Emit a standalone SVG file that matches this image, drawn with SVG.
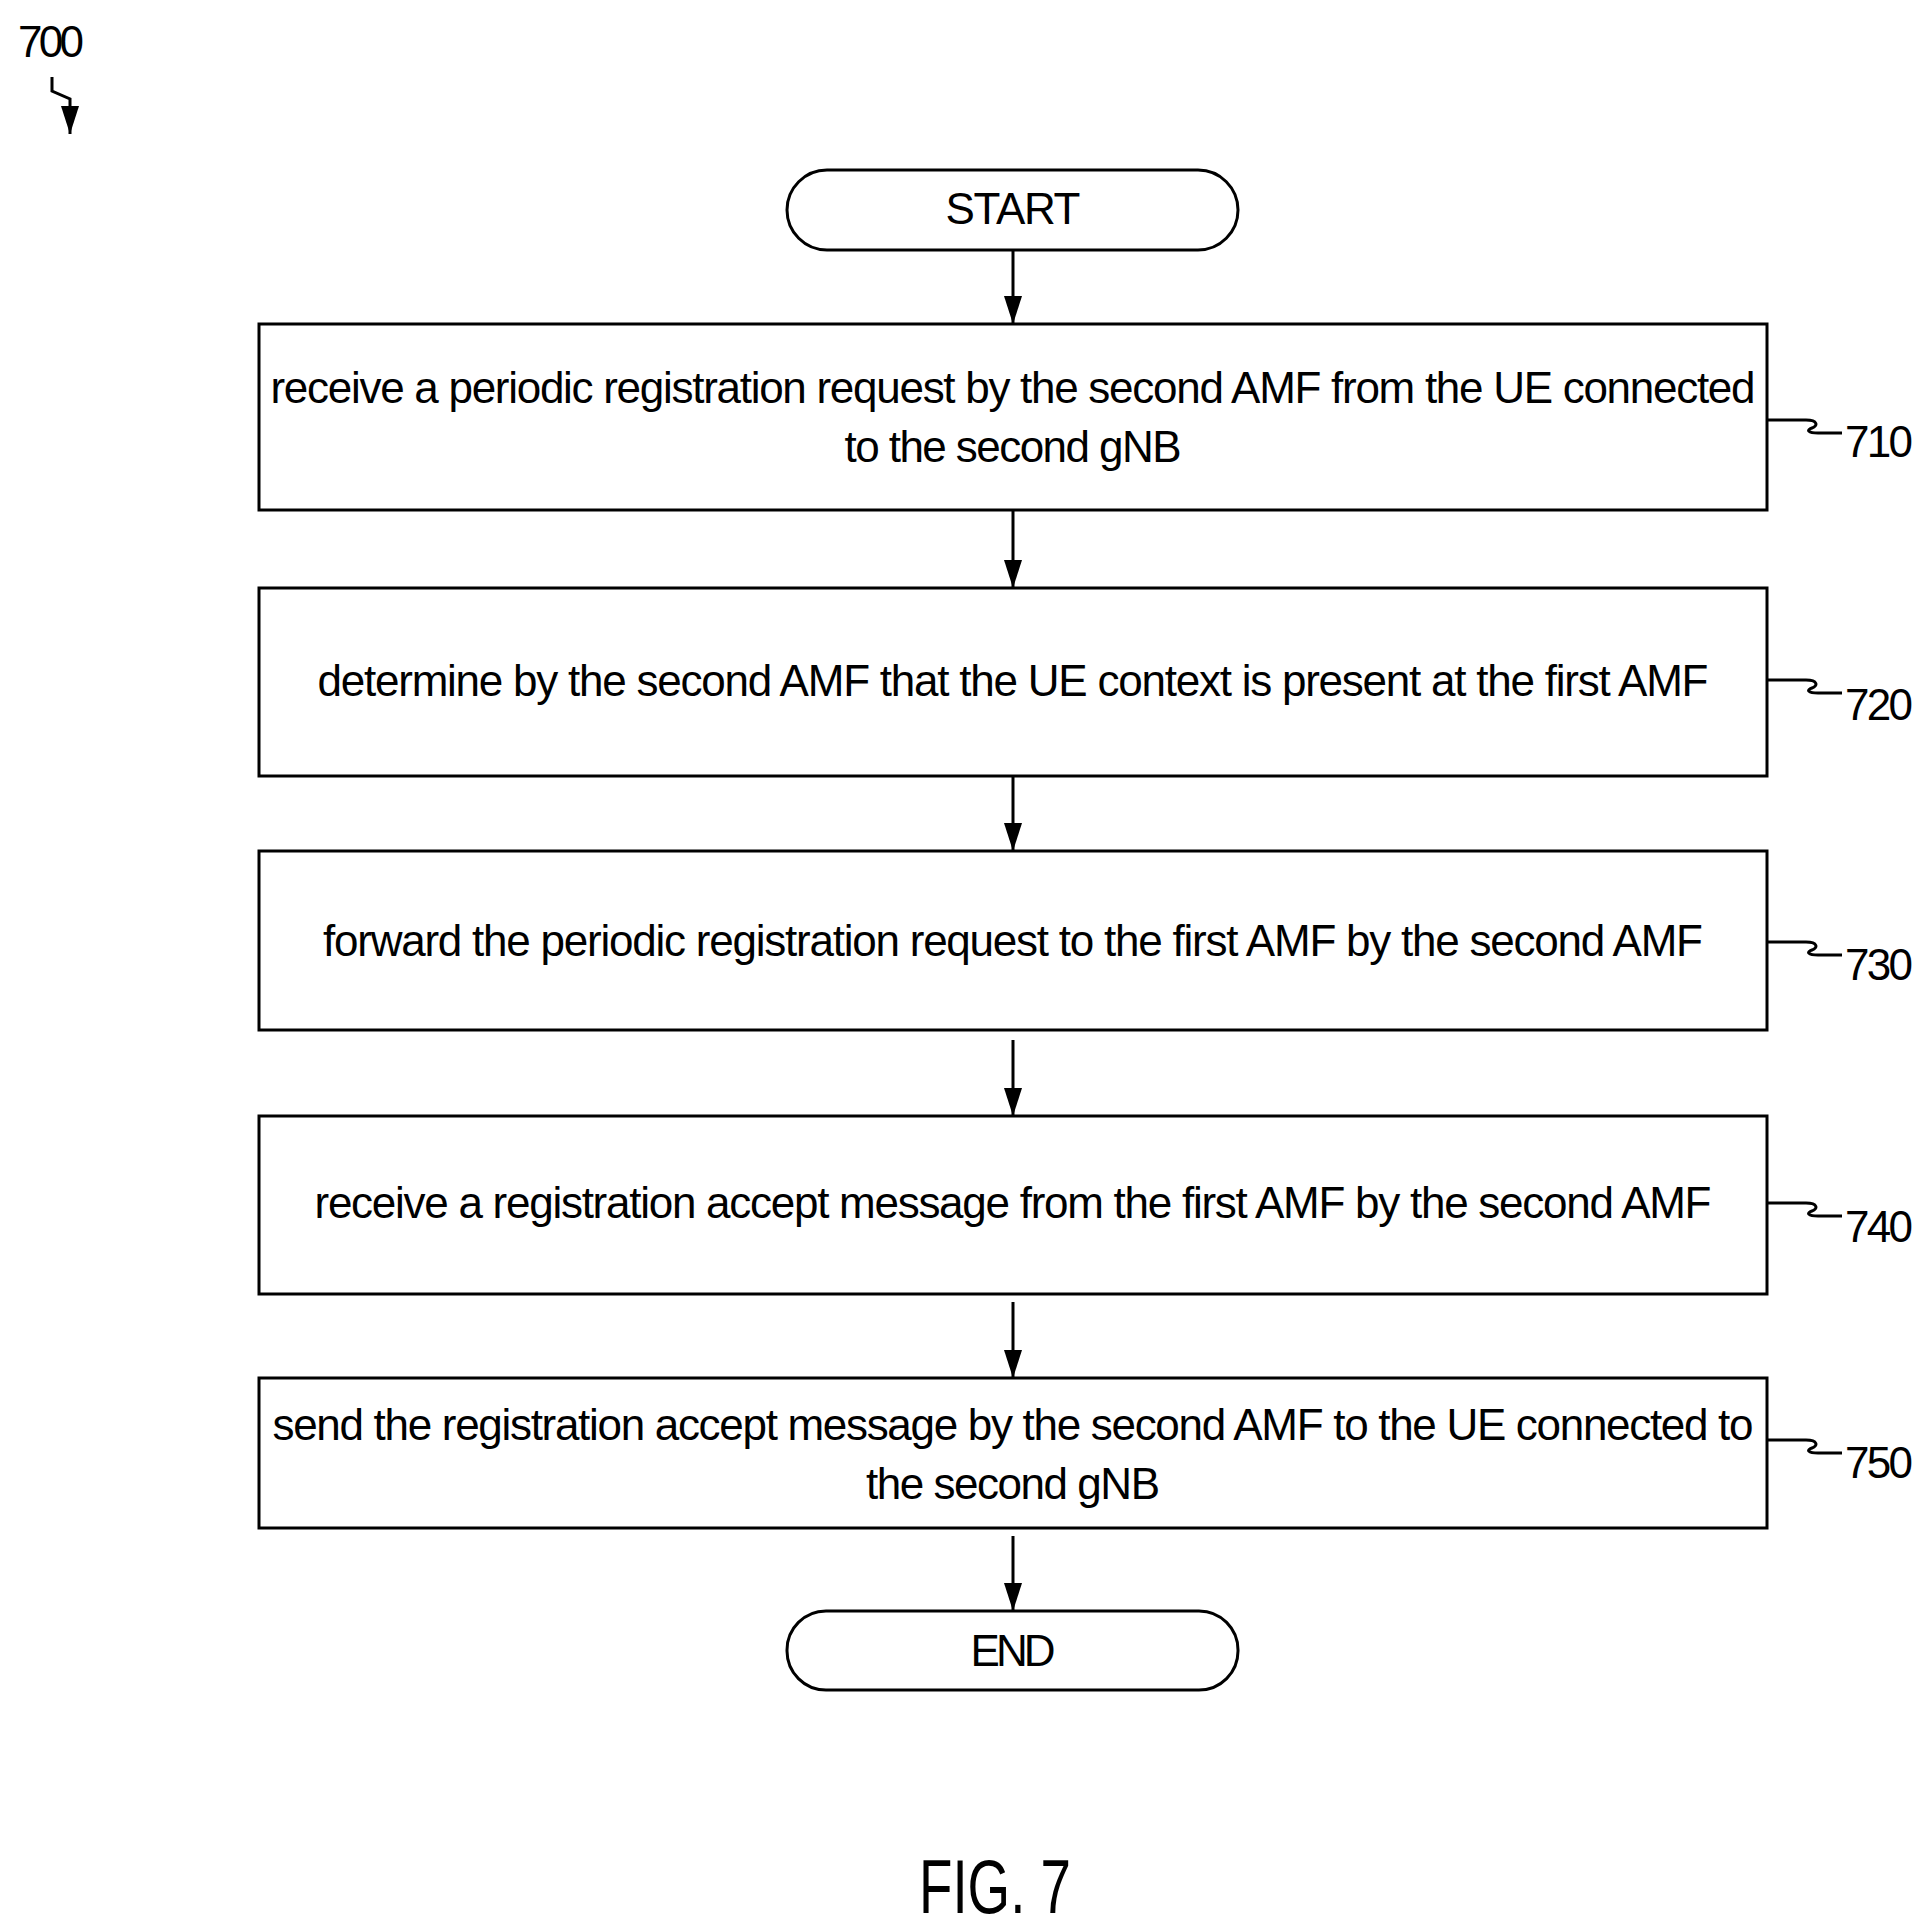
<svg xmlns="http://www.w3.org/2000/svg" width="1922" height="1927" viewBox="0 0 1922 1927">
<style>
.b{fill:#fff;stroke:#000;stroke-width:3}
.t{font-family:"Liberation Sans",Arial,sans-serif;font-size:44px;text-anchor:middle;fill:#000}
.l{font-family:"Liberation Sans",Arial,sans-serif;font-size:44px;fill:#000}
.c{stroke:#000;stroke-width:3;fill:none}
</style>
<defs><marker id="a" markerWidth="28" markerHeight="18" refX="28" refY="9" orient="auto" markerUnits="userSpaceOnUse"><path d="M0,0 L28,9 L0,18 z" fill="#000"/></marker></defs>
<rect width="1922" height="1927" fill="#fff"/>
<g id="ref700"><text class="l" x="18" y="57" textLength="66">700</text><path class="c" d="M52,77 V91 L70,99 V134" marker-end="url(#a)"/></g>
<g id="start"><rect class="b" x="787" y="170" width="451" height="80" rx="40"/><text class="t" x="1013" y="224" textLength="135">START</text></g>
<g id="n710"><rect class="b" x="259" y="324" width="1508" height="186"/><text class="t" x="1013" y="403" textLength="1485">receive a periodic registration request by the second AMF from the UE connected</text><text class="t" x="1013" y="462" textLength="337">to the second gNB</text></g>
<g id="n720"><rect class="b" x="259" y="588" width="1508" height="188"/><text class="t" x="1013" y="696" textLength="1391">determine by the second AMF that the UE context is present at the first AMF</text></g>
<g id="n730"><rect class="b" x="259" y="851" width="1508" height="179"/><text class="t" x="1013" y="956" textLength="1380">forward the periodic registration request to the first AMF by the second AMF</text></g>
<g id="n740"><rect class="b" x="259" y="1116" width="1508" height="178"/><text class="t" x="1013" y="1218" textLength="1397">receive a registration accept message from the first AMF by the second AMF</text></g>
<g id="n750"><rect class="b" x="259" y="1378" width="1508" height="150"/><text class="t" x="1013" y="1440" textLength="1481">send the registration accept message by the second AMF to the UE connected to</text><text class="t" x="1013" y="1499" textLength="294">the second gNB</text></g>
<g id="end"><rect class="b" x="787" y="1611" width="451" height="79" rx="39"/><text class="t" x="1013" y="1666" textLength="85">END</text></g>
<g id="labels">
<path class="c" d="M1767,420 H1806 C1818,420 1818,426 1812,428 C1806,430 1808,433 1818,433 H1842"/><text class="l" x="1845" y="457" textLength="68">710</text>
<path class="c" d="M1767,680 H1806 C1818,680 1818,686 1812,688 C1806,690 1808,693 1818,693 H1842"/><text class="l" x="1845" y="720" textLength="68">720</text>
<path class="c" d="M1767,942 H1806 C1818,942 1818,948 1812,950 C1806,952 1808,955 1818,955 H1842"/><text class="l" x="1845" y="980" textLength="68">730</text>
<path class="c" d="M1767,1203 H1806 C1818,1203 1818,1209 1812,1211 C1806,1213 1808,1216 1818,1216 H1842"/><text class="l" x="1845" y="1242" textLength="68">740</text>
<path class="c" d="M1767,1440 H1806 C1818,1440 1818,1446 1812,1448 C1806,1450 1808,1453 1818,1453 H1842"/><text class="l" x="1845" y="1478" textLength="68">750</text>
</g>
<g id="connectors">
<line class="c" x1="1013" y1="250" x2="1013" y2="324" marker-end="url(#a)"/>
<line class="c" x1="1013" y1="510" x2="1013" y2="588" marker-end="url(#a)"/>
<line class="c" x1="1013" y1="776" x2="1013" y2="851" marker-end="url(#a)"/>
<line class="c" x1="1013" y1="1040" x2="1013" y2="1116" marker-end="url(#a)"/>
<line class="c" x1="1013" y1="1302" x2="1013" y2="1378" marker-end="url(#a)"/>
<line class="c" x1="1013" y1="1536" x2="1013" y2="1611" marker-end="url(#a)"/>
</g>
<text class="l" transform="translate(995,1913) scale(0.72,1)" style="font-size:76px;text-anchor:middle">FIG. 7</text>
</svg>
